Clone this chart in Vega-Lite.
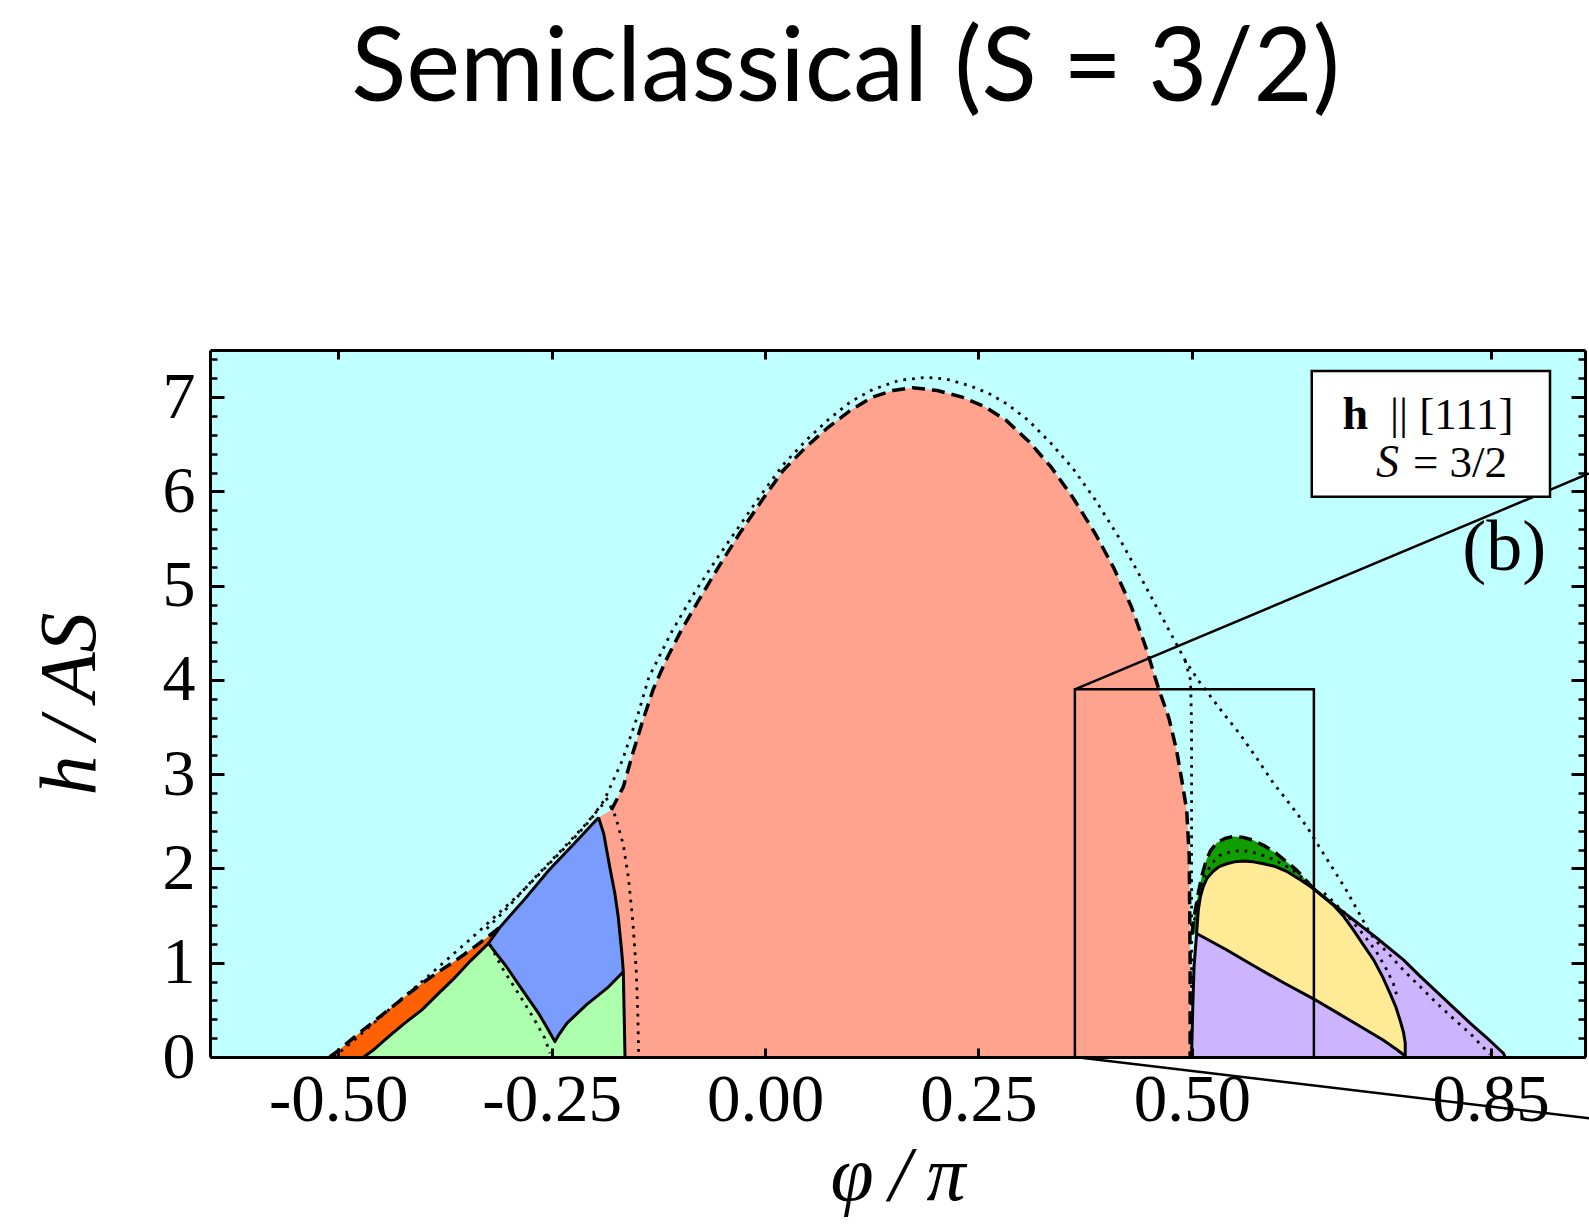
{
  "$schema": "https://vega.github.io/schema/vega-lite/v6.json",
  "width": 1375,
  "height": 707,
  "autosize": {"type": "none"},
  "padding": {"left": 210, "top": 350, "right": 4, "bottom": 173},
  "background": "white",
  "title": {"text": "Semiclassical (S = 3/2)", "font": "Lato", "fontSize": 102, "fontWeight": "normal", "color": "black", "anchor": "middle", "frame": "group", "dx": -52, "baseline": "alphabetic", "offset": 146},
  "config": {"view": {"stroke": null, "fill": "#c0ffff"}},
  "resolve": {"axis": {"x": "independent", "y": "independent"}},
  "datasets": {
    "poly": [
      {"r":"salmon","i":0,"x":-0.164,"y":0},{"r":"salmon","i":1,"x":0.498,"y":0},{"r":"salmon","i":2,"x":0.498,"y":1.0},{"r":"salmon","i":3,"x":0.497,"y":2.12},{"r":"salmon","i":4,"x":0.494,"y":2.62},{"r":"salmon","i":5,"x":0.488,"y":2.95},{"r":"salmon","i":6,"x":0.482,"y":3.26},{"r":"salmon","i":7,"x":0.473,"y":3.6},{"r":"salmon","i":8,"x":0.461,"y":3.91},{"r":"salmon","i":9,"x":0.446,"y":4.35},{"r":"salmon","i":10,"x":0.429,"y":4.78},{"r":"salmon","i":11,"x":0.409,"y":5.18},{"r":"salmon","i":12,"x":0.387,"y":5.55},{"r":"salmon","i":13,"x":0.361,"y":5.93},{"r":"salmon","i":14,"x":0.335,"y":6.26},{"r":"salmon","i":15,"x":0.309,"y":6.53},{"r":"salmon","i":16,"x":0.283,"y":6.75},{"r":"salmon","i":17,"x":0.257,"y":6.9},{"r":"salmon","i":18,"x":0.231,"y":7.0},{"r":"salmon","i":19,"x":0.202,"y":7.07},{"r":"salmon","i":20,"x":0.173,"y":7.1},{"r":"salmon","i":21,"x":0.15,"y":7.07},{"r":"salmon","i":22,"x":0.126,"y":7.0},{"r":"salmon","i":23,"x":0.1,"y":6.86},{"r":"salmon","i":24,"x":0.074,"y":6.68},{"r":"salmon","i":25,"x":0.048,"y":6.47},{"r":"salmon","i":26,"x":0.021,"y":6.22},{"r":"salmon","i":27,"x":-0.004,"y":5.9},{"r":"salmon","i":28,"x":-0.03,"y":5.55},{"r":"salmon","i":29,"x":-0.055,"y":5.19},{"r":"salmon","i":30,"x":-0.08,"y":4.81},{"r":"salmon","i":31,"x":-0.099,"y":4.51},{"r":"salmon","i":32,"x":-0.116,"y":4.21},{"r":"salmon","i":33,"x":-0.131,"y":3.9},{"r":"salmon","i":34,"x":-0.143,"y":3.574},{"r":"salmon","i":35,"x":-0.155,"y":3.22},{"r":"salmon","i":36,"x":-0.166,"y":2.866},{"r":"salmon","i":37,"x":-0.18,"y":2.62},{"r":"salmon","i":38,"x":-0.195,"y":2.54},{"r":"salmon","i":39,"x":-0.189,"y":2.37},{"r":"salmon","i":40,"x":-0.182,"y":2.02},{"r":"salmon","i":41,"x":-0.176,"y":1.74},{"r":"salmon","i":42,"x":-0.172,"y":1.49},{"r":"salmon","i":43,"x":-0.168,"y":1.13},{"r":"salmon","i":44,"x":-0.166,"y":0.905},{"r":"salmon","i":45,"x":-0.165,"y":0.45},
      {"r":"blue","i":0,"x":-0.324,"y":1.206},{"r":"blue","i":1,"x":-0.31,"y":1.382},{"r":"blue","i":2,"x":-0.281,"y":1.68},{"r":"blue","i":3,"x":-0.253,"y":1.983},{"r":"blue","i":4,"x":-0.224,"y":2.26},{"r":"blue","i":5,"x":-0.195,"y":2.54},{"r":"blue","i":6,"x":-0.189,"y":2.37},{"r":"blue","i":7,"x":-0.182,"y":2.02},{"r":"blue","i":8,"x":-0.176,"y":1.74},{"r":"blue","i":9,"x":-0.172,"y":1.49},{"r":"blue","i":10,"x":-0.168,"y":1.13},{"r":"blue","i":11,"x":-0.166,"y":0.905},{"r":"blue","i":12,"x":-0.185,"y":0.73},{"r":"blue","i":13,"x":-0.209,"y":0.555},{"r":"blue","i":14,"x":-0.232,"y":0.36},{"r":"blue","i":15,"x":-0.242,"y":0.23},{"r":"blue","i":16,"x":-0.246,"y":0.163},{"r":"blue","i":17,"x":-0.256,"y":0.32},{"r":"blue","i":18,"x":-0.265,"y":0.46},{"r":"blue","i":19,"x":-0.285,"y":0.72},{"r":"blue","i":20,"x":-0.303,"y":0.96},{"r":"blue","i":21,"x":-0.315,"y":1.1},
      {"r":"green","i":0,"x":-0.47,"y":0},{"r":"green","i":1,"x":-0.458,"y":0.08},{"r":"green","i":2,"x":-0.441,"y":0.215},{"r":"green","i":3,"x":-0.422,"y":0.36},{"r":"green","i":4,"x":-0.402,"y":0.5},{"r":"green","i":5,"x":-0.383,"y":0.67},{"r":"green","i":6,"x":-0.363,"y":0.845},{"r":"green","i":7,"x":-0.345,"y":1.02},{"r":"green","i":8,"x":-0.324,"y":1.206},{"r":"green","i":9,"x":-0.315,"y":1.1},{"r":"green","i":10,"x":-0.303,"y":0.96},{"r":"green","i":11,"x":-0.285,"y":0.72},{"r":"green","i":12,"x":-0.265,"y":0.46},{"r":"green","i":13,"x":-0.256,"y":0.32},{"r":"green","i":14,"x":-0.246,"y":0.163},{"r":"green","i":15,"x":-0.242,"y":0.23},{"r":"green","i":16,"x":-0.232,"y":0.36},{"r":"green","i":17,"x":-0.209,"y":0.555},{"r":"green","i":18,"x":-0.185,"y":0.73},{"r":"green","i":19,"x":-0.166,"y":0.905},{"r":"green","i":20,"x":-0.165,"y":0.45},{"r":"green","i":21,"x":-0.164,"y":0},
      {"r":"orange","i":0,"x":-0.51,"y":0},{"r":"orange","i":1,"x":-0.498,"y":0.08},{"r":"orange","i":2,"x":-0.484,"y":0.19},{"r":"orange","i":3,"x":-0.462,"y":0.35},{"r":"orange","i":4,"x":-0.441,"y":0.5},{"r":"orange","i":5,"x":-0.422,"y":0.64},{"r":"orange","i":6,"x":-0.402,"y":0.78},{"r":"orange","i":7,"x":-0.383,"y":0.9},{"r":"orange","i":8,"x":-0.363,"y":1.02},{"r":"orange","i":9,"x":-0.343,"y":1.15},{"r":"orange","i":10,"x":-0.324,"y":1.28},{"r":"orange","i":11,"x":-0.31,"y":1.382},{"r":"orange","i":12,"x":-0.324,"y":1.206},{"r":"orange","i":13,"x":-0.345,"y":1.02},{"r":"orange","i":14,"x":-0.363,"y":0.845},{"r":"orange","i":15,"x":-0.383,"y":0.67},{"r":"orange","i":16,"x":-0.402,"y":0.5},{"r":"orange","i":17,"x":-0.422,"y":0.36},{"r":"orange","i":18,"x":-0.441,"y":0.215},{"r":"orange","i":19,"x":-0.458,"y":0.08},{"r":"orange","i":20,"x":-0.47,"y":0},
      {"r":"dgreen","i":0,"x":0.5,"y":1.3},{"r":"dgreen","i":1,"x":0.503,"y":1.5},{"r":"dgreen","i":2,"x":0.5076,"y":1.74},{"r":"dgreen","i":3,"x":0.512,"y":1.93},{"r":"dgreen","i":4,"x":0.517,"y":2.09},{"r":"dgreen","i":5,"x":0.522,"y":2.19},{"r":"dgreen","i":6,"x":0.529,"y":2.27},{"r":"dgreen","i":7,"x":0.539,"y":2.32},{"r":"dgreen","i":8,"x":0.549,"y":2.34},{"r":"dgreen","i":9,"x":0.56,"y":2.33},{"r":"dgreen","i":10,"x":0.572,"y":2.3},{"r":"dgreen","i":11,"x":0.585,"y":2.24},{"r":"dgreen","i":12,"x":0.599,"y":2.16},{"r":"dgreen","i":13,"x":0.611,"y":2.07},{"r":"dgreen","i":14,"x":0.623,"y":1.98},{"r":"dgreen","i":15,"x":0.633,"y":1.88},{"r":"dgreen","i":16,"x":0.642,"y":1.79},{"r":"dgreen","i":17,"x":0.627,"y":1.88},{"r":"dgreen","i":18,"x":0.611,"y":1.97},{"r":"dgreen","i":19,"x":0.598,"y":2.02},{"r":"dgreen","i":20,"x":0.584,"y":2.05},{"r":"dgreen","i":21,"x":0.572,"y":2.07},{"r":"dgreen","i":22,"x":0.56,"y":2.08},{"r":"dgreen","i":23,"x":0.55,"y":2.07},{"r":"dgreen","i":24,"x":0.541,"y":2.05},{"r":"dgreen","i":25,"x":0.532,"y":2.02},{"r":"dgreen","i":26,"x":0.525,"y":1.97},{"r":"dgreen","i":27,"x":0.518,"y":1.9},{"r":"dgreen","i":28,"x":0.5135,"y":1.81},{"r":"dgreen","i":29,"x":0.51,"y":1.7},{"r":"dgreen","i":30,"x":0.5076,"y":1.56},{"r":"dgreen","i":31,"x":0.5056,"y":1.31},
      {"r":"yellow","i":0,"x":0.5056,"y":1.31},{"r":"yellow","i":1,"x":0.5076,"y":1.56},{"r":"yellow","i":2,"x":0.51,"y":1.7},{"r":"yellow","i":3,"x":0.5135,"y":1.81},{"r":"yellow","i":4,"x":0.518,"y":1.9},{"r":"yellow","i":5,"x":0.525,"y":1.97},{"r":"yellow","i":6,"x":0.532,"y":2.02},{"r":"yellow","i":7,"x":0.541,"y":2.05},{"r":"yellow","i":8,"x":0.55,"y":2.07},{"r":"yellow","i":9,"x":0.56,"y":2.08},{"r":"yellow","i":10,"x":0.572,"y":2.07},{"r":"yellow","i":11,"x":0.584,"y":2.05},{"r":"yellow","i":12,"x":0.598,"y":2.02},{"r":"yellow","i":13,"x":0.611,"y":1.97},{"r":"yellow","i":14,"x":0.627,"y":1.88},{"r":"yellow","i":15,"x":0.642,"y":1.79},{"r":"yellow","i":16,"x":0.654,"y":1.7},{"r":"yellow","i":17,"x":0.666,"y":1.61},{"r":"yellow","i":18,"x":0.678,"y":1.49},{"r":"yellow","i":19,"x":0.689,"y":1.35},{"r":"yellow","i":20,"x":0.701,"y":1.19},{"r":"yellow","i":21,"x":0.713,"y":1.03},{"r":"yellow","i":22,"x":0.723,"y":0.86},{"r":"yellow","i":23,"x":0.732,"y":0.68},{"r":"yellow","i":24,"x":0.739,"y":0.53},{"r":"yellow","i":25,"x":0.744,"y":0.39},{"r":"yellow","i":26,"x":0.748,"y":0.26},{"r":"yellow","i":27,"x":0.75,"y":0.15},{"r":"yellow","i":28,"x":0.75,"y":0.01},{"r":"yellow","i":29,"x":0.74,"y":0.08},{"r":"yellow","i":30,"x":0.724,"y":0.18},{"r":"yellow","i":31,"x":0.7,"y":0.31},{"r":"yellow","i":32,"x":0.672,"y":0.46},{"r":"yellow","i":33,"x":0.642,"y":0.62},{"r":"yellow","i":34,"x":0.607,"y":0.79},{"r":"yellow","i":35,"x":0.572,"y":0.97},{"r":"yellow","i":36,"x":0.54,"y":1.14},
      {"r":"purpleA","i":0,"x":0.4997,"y":0},{"r":"purpleA","i":1,"x":0.501,"y":0.5},{"r":"purpleA","i":2,"x":0.5026,"y":0.96},{"r":"purpleA","i":3,"x":0.5056,"y":1.31},{"r":"purpleA","i":4,"x":0.54,"y":1.14},{"r":"purpleA","i":5,"x":0.572,"y":0.97},{"r":"purpleA","i":6,"x":0.607,"y":0.79},{"r":"purpleA","i":7,"x":0.642,"y":0.62},{"r":"purpleA","i":8,"x":0.672,"y":0.46},{"r":"purpleA","i":9,"x":0.7,"y":0.31},{"r":"purpleA","i":10,"x":0.724,"y":0.18},{"r":"purpleA","i":11,"x":0.74,"y":0.08},{"r":"purpleA","i":12,"x":0.75,"y":0.01},{"r":"purpleA","i":13,"x":0.75,"y":0},
      {"r":"purpleB","i":0,"x":0.75,"y":0},{"r":"purpleB","i":1,"x":0.75,"y":0.15},{"r":"purpleB","i":2,"x":0.748,"y":0.26},{"r":"purpleB","i":3,"x":0.744,"y":0.39},{"r":"purpleB","i":4,"x":0.739,"y":0.53},{"r":"purpleB","i":5,"x":0.732,"y":0.68},{"r":"purpleB","i":6,"x":0.723,"y":0.86},{"r":"purpleB","i":7,"x":0.713,"y":1.03},{"r":"purpleB","i":8,"x":0.701,"y":1.19},{"r":"purpleB","i":9,"x":0.689,"y":1.35},{"r":"purpleB","i":10,"x":0.678,"y":1.49},{"r":"purpleB","i":11,"x":0.666,"y":1.61},{"r":"purpleB","i":12,"x":0.654,"y":1.7},{"r":"purpleB","i":13,"x":0.642,"y":1.79},{"r":"purpleB","i":14,"x":0.656,"y":1.69},{"r":"purpleB","i":15,"x":0.67,"y":1.59},{"r":"purpleB","i":16,"x":0.693,"y":1.43},{"r":"purpleB","i":17,"x":0.717,"y":1.26},{"r":"purpleB","i":18,"x":0.748,"y":1.03},{"r":"purpleB","i":19,"x":0.767,"y":0.86},{"r":"purpleB","i":20,"x":0.787,"y":0.69},{"r":"purpleB","i":21,"x":0.806,"y":0.53},{"r":"purpleB","i":22,"x":0.826,"y":0.36},{"r":"purpleB","i":23,"x":0.846,"y":0.2},{"r":"purpleB","i":24,"x":0.865,"y":0.04},{"r":"purpleB","i":25,"x":0.867,"y":0}
    ],
    "solid": [
      {"s":"S1","i":0,"x":-0.47,"y":0},{"s":"S1","i":1,"x":-0.458,"y":0.08},{"s":"S1","i":2,"x":-0.441,"y":0.215},{"s":"S1","i":3,"x":-0.422,"y":0.36},{"s":"S1","i":4,"x":-0.402,"y":0.5},{"s":"S1","i":5,"x":-0.383,"y":0.67},{"s":"S1","i":6,"x":-0.363,"y":0.845},{"s":"S1","i":7,"x":-0.345,"y":1.02},{"s":"S1","i":8,"x":-0.324,"y":1.206},{"s":"S1","i":9,"x":-0.31,"y":1.382},{"s":"S1","i":10,"x":-0.281,"y":1.68},{"s":"S1","i":11,"x":-0.253,"y":1.983},{"s":"S1","i":12,"x":-0.224,"y":2.26},{"s":"S1","i":13,"x":-0.195,"y":2.54},
      {"s":"S2","i":0,"x":-0.195,"y":2.54},{"s":"S2","i":1,"x":-0.189,"y":2.37},{"s":"S2","i":2,"x":-0.182,"y":2.02},{"s":"S2","i":3,"x":-0.176,"y":1.74},{"s":"S2","i":4,"x":-0.172,"y":1.49},{"s":"S2","i":5,"x":-0.168,"y":1.13},{"s":"S2","i":6,"x":-0.166,"y":0.905},{"s":"S2","i":7,"x":-0.165,"y":0.45},{"s":"S2","i":8,"x":-0.164,"y":0},
      {"s":"S3","i":0,"x":-0.324,"y":1.206},{"s":"S3","i":1,"x":-0.315,"y":1.1},{"s":"S3","i":2,"x":-0.303,"y":0.96},{"s":"S3","i":3,"x":-0.285,"y":0.72},{"s":"S3","i":4,"x":-0.265,"y":0.46},{"s":"S3","i":5,"x":-0.256,"y":0.32},{"s":"S3","i":6,"x":-0.246,"y":0.163},{"s":"S3","i":7,"x":-0.242,"y":0.23},{"s":"S3","i":8,"x":-0.232,"y":0.36},{"s":"S3","i":9,"x":-0.209,"y":0.555},{"s":"S3","i":10,"x":-0.185,"y":0.73},{"s":"S3","i":11,"x":-0.166,"y":0.905},
      {"s":"S4","i":0,"x":0.4997,"y":0},{"s":"S4","i":1,"x":0.501,"y":0.5},{"s":"S4","i":2,"x":0.5026,"y":0.96},{"s":"S4","i":3,"x":0.5056,"y":1.31},
      {"s":"S5","i":0,"x":0.5056,"y":1.31},{"s":"S5","i":1,"x":0.5076,"y":1.56},{"s":"S5","i":2,"x":0.51,"y":1.7},{"s":"S5","i":3,"x":0.5135,"y":1.81},{"s":"S5","i":4,"x":0.518,"y":1.9},{"s":"S5","i":5,"x":0.525,"y":1.97},{"s":"S5","i":6,"x":0.532,"y":2.02},{"s":"S5","i":7,"x":0.541,"y":2.05},{"s":"S5","i":8,"x":0.55,"y":2.07},{"s":"S5","i":9,"x":0.56,"y":2.08},{"s":"S5","i":10,"x":0.572,"y":2.07},{"s":"S5","i":11,"x":0.584,"y":2.05},{"s":"S5","i":12,"x":0.598,"y":2.02},{"s":"S5","i":13,"x":0.611,"y":1.97},{"s":"S5","i":14,"x":0.627,"y":1.88},{"s":"S5","i":15,"x":0.642,"y":1.79},{"s":"S5","i":16,"x":0.654,"y":1.7},{"s":"S5","i":17,"x":0.666,"y":1.61},{"s":"S5","i":18,"x":0.678,"y":1.49},{"s":"S5","i":19,"x":0.689,"y":1.35},{"s":"S5","i":20,"x":0.701,"y":1.19},{"s":"S5","i":21,"x":0.713,"y":1.03},{"s":"S5","i":22,"x":0.723,"y":0.86},{"s":"S5","i":23,"x":0.732,"y":0.68},{"s":"S5","i":24,"x":0.739,"y":0.53},{"s":"S5","i":25,"x":0.744,"y":0.39},{"s":"S5","i":26,"x":0.748,"y":0.26},{"s":"S5","i":27,"x":0.75,"y":0.15},{"s":"S5","i":28,"x":0.75,"y":0},
      {"s":"S6","i":0,"x":0.5056,"y":1.31},{"s":"S6","i":1,"x":0.54,"y":1.14},{"s":"S6","i":2,"x":0.572,"y":0.97},{"s":"S6","i":3,"x":0.607,"y":0.79},{"s":"S6","i":4,"x":0.642,"y":0.62},{"s":"S6","i":5,"x":0.672,"y":0.46},{"s":"S6","i":6,"x":0.7,"y":0.31},{"s":"S6","i":7,"x":0.724,"y":0.18},{"s":"S6","i":8,"x":0.74,"y":0.08},{"s":"S6","i":9,"x":0.75,"y":0.01},
      {"s":"S7","i":0,"x":0.642,"y":1.79},{"s":"S7","i":1,"x":0.656,"y":1.69},{"s":"S7","i":2,"x":0.67,"y":1.59},{"s":"S7","i":3,"x":0.693,"y":1.43},{"s":"S7","i":4,"x":0.717,"y":1.26},{"s":"S7","i":5,"x":0.748,"y":1.03},{"s":"S7","i":6,"x":0.767,"y":0.86},{"s":"S7","i":7,"x":0.787,"y":0.69},{"s":"S7","i":8,"x":0.806,"y":0.53},{"s":"S7","i":9,"x":0.826,"y":0.36},{"s":"S7","i":10,"x":0.846,"y":0.2},{"s":"S7","i":11,"x":0.865,"y":0.04},{"s":"S7","i":12,"x":0.867,"y":0}
    ],
    "dashed": [
      {"s":"DA","i":0,"x":-0.18,"y":2.62},{"s":"DA","i":1,"x":-0.166,"y":2.866},{"s":"DA","i":2,"x":-0.155,"y":3.22},{"s":"DA","i":3,"x":-0.143,"y":3.574},{"s":"DA","i":4,"x":-0.131,"y":3.9},{"s":"DA","i":5,"x":-0.116,"y":4.21},{"s":"DA","i":6,"x":-0.099,"y":4.51},{"s":"DA","i":7,"x":-0.08,"y":4.81},{"s":"DA","i":8,"x":-0.055,"y":5.19},{"s":"DA","i":9,"x":-0.03,"y":5.55},{"s":"DA","i":10,"x":-0.004,"y":5.9},{"s":"DA","i":11,"x":0.021,"y":6.22},{"s":"DA","i":12,"x":0.048,"y":6.47},{"s":"DA","i":13,"x":0.074,"y":6.68},{"s":"DA","i":14,"x":0.1,"y":6.86},{"s":"DA","i":15,"x":0.126,"y":7.0},{"s":"DA","i":16,"x":0.15,"y":7.07},{"s":"DA","i":17,"x":0.173,"y":7.1},{"s":"DA","i":18,"x":0.202,"y":7.07},{"s":"DA","i":19,"x":0.231,"y":7.0},{"s":"DA","i":20,"x":0.257,"y":6.9},{"s":"DA","i":21,"x":0.283,"y":6.75},{"s":"DA","i":22,"x":0.309,"y":6.53},{"s":"DA","i":23,"x":0.335,"y":6.26},{"s":"DA","i":24,"x":0.361,"y":5.93},{"s":"DA","i":25,"x":0.387,"y":5.55},{"s":"DA","i":26,"x":0.409,"y":5.18},{"s":"DA","i":27,"x":0.429,"y":4.78},{"s":"DA","i":28,"x":0.446,"y":4.35},{"s":"DA","i":29,"x":0.461,"y":3.91},{"s":"DA","i":30,"x":0.473,"y":3.6},{"s":"DA","i":31,"x":0.482,"y":3.26},{"s":"DA","i":32,"x":0.488,"y":2.95},{"s":"DA","i":33,"x":0.494,"y":2.62},{"s":"DA","i":34,"x":0.497,"y":2.12},{"s":"DA","i":35,"x":0.498,"y":1.0},{"s":"DA","i":36,"x":0.498,"y":0},
      {"s":"DB","i":0,"x":-0.51,"y":0},{"s":"DB","i":1,"x":-0.498,"y":0.08},{"s":"DB","i":2,"x":-0.484,"y":0.19},{"s":"DB","i":3,"x":-0.462,"y":0.35},{"s":"DB","i":4,"x":-0.441,"y":0.5},{"s":"DB","i":5,"x":-0.422,"y":0.64},{"s":"DB","i":6,"x":-0.402,"y":0.78},{"s":"DB","i":7,"x":-0.383,"y":0.9},{"s":"DB","i":8,"x":-0.363,"y":1.02},{"s":"DB","i":9,"x":-0.343,"y":1.15},{"s":"DB","i":10,"x":-0.324,"y":1.28},{"s":"DB","i":11,"x":-0.31,"y":1.382},
      {"s":"DC","i":0,"x":0.5,"y":1.3},{"s":"DC","i":1,"x":0.503,"y":1.5},{"s":"DC","i":2,"x":0.5076,"y":1.74},{"s":"DC","i":3,"x":0.512,"y":1.93},{"s":"DC","i":4,"x":0.517,"y":2.09},{"s":"DC","i":5,"x":0.522,"y":2.19},{"s":"DC","i":6,"x":0.529,"y":2.27},{"s":"DC","i":7,"x":0.539,"y":2.32},{"s":"DC","i":8,"x":0.549,"y":2.34},{"s":"DC","i":9,"x":0.56,"y":2.33},{"s":"DC","i":10,"x":0.572,"y":2.3},{"s":"DC","i":11,"x":0.585,"y":2.24},{"s":"DC","i":12,"x":0.599,"y":2.16},{"s":"DC","i":13,"x":0.611,"y":2.07},{"s":"DC","i":14,"x":0.623,"y":1.98},{"s":"DC","i":15,"x":0.633,"y":1.88},{"s":"DC","i":16,"x":0.642,"y":1.79}
    ],
    "dotted": [
      {"s":"A","i":0,"x":-0.505,"y":0},{"s":"A","i":1,"x":-0.485,"y":0.15},{"s":"A","i":2,"x":-0.461,"y":0.34},{"s":"A","i":3,"x":-0.432,"y":0.57},{"s":"A","i":4,"x":-0.402,"y":0.8},{"s":"A","i":5,"x":-0.373,"y":1.03},{"s":"A","i":6,"x":-0.344,"y":1.26},{"s":"A","i":7,"x":-0.315,"y":1.5},{"s":"A","i":8,"x":-0.285,"y":1.75},{"s":"A","i":9,"x":-0.256,"y":2.02},{"s":"A","i":10,"x":-0.227,"y":2.29},{"s":"A","i":11,"x":-0.205,"y":2.51},{"s":"A","i":12,"x":-0.188,"y":2.73},{"s":"A","i":13,"x":-0.177,"y":2.95},{"s":"A","i":14,"x":-0.167,"y":3.15},{"s":"A","i":15,"x":-0.15,"y":3.6},{"s":"A","i":16,"x":-0.136,"y":4.03},{"s":"A","i":17,"x":-0.11,"y":4.5},{"s":"A","i":18,"x":-0.083,"y":4.92},{"s":"A","i":19,"x":-0.057,"y":5.28},{"s":"A","i":20,"x":-0.031,"y":5.62},{"s":"A","i":21,"x":-0.005,"y":5.96},{"s":"A","i":22,"x":0.021,"y":6.28},{"s":"A","i":23,"x":0.048,"y":6.54},{"s":"A","i":24,"x":0.074,"y":6.76},{"s":"A","i":25,"x":0.1,"y":6.95},{"s":"A","i":26,"x":0.126,"y":7.08},{"s":"A","i":27,"x":0.158,"y":7.18},{"s":"A","i":28,"x":0.189,"y":7.21},{"s":"A","i":29,"x":0.213,"y":7.19},{"s":"A","i":30,"x":0.24,"y":7.12},{"s":"A","i":31,"x":0.262,"y":7.04},{"s":"A","i":32,"x":0.283,"y":6.93},{"s":"A","i":33,"x":0.309,"y":6.75},{"s":"A","i":34,"x":0.335,"y":6.51},{"s":"A","i":35,"x":0.361,"y":6.24},{"s":"A","i":36,"x":0.387,"y":5.91},{"s":"A","i":37,"x":0.414,"y":5.52},{"s":"A","i":38,"x":0.44,"y":5.09},{"s":"A","i":39,"x":0.466,"y":4.65},{"s":"A","i":40,"x":0.492,"y":4.21},{"s":"A","i":41,"x":0.508,"y":3.99},{"s":"A","i":42,"x":0.525,"y":3.79},{"s":"A","i":43,"x":0.54,"y":3.61},{"s":"A","i":44,"x":0.556,"y":3.43},{"s":"A","i":45,"x":0.576,"y":3.17},{"s":"A","i":46,"x":0.596,"y":2.9},{"s":"A","i":47,"x":0.616,"y":2.67},{"s":"A","i":48,"x":0.635,"y":2.44},{"s":"A","i":49,"x":0.654,"y":2.16},{"s":"A","i":50,"x":0.668,"y":1.96},{"s":"A","i":51,"x":0.681,"y":1.77},{"s":"A","i":52,"x":0.695,"y":1.54},{"s":"A","i":53,"x":0.709,"y":1.31},{"s":"A","i":54,"x":0.717,"y":1.22},{"s":"A","i":55,"x":0.73,"y":1.1},{"s":"A","i":56,"x":0.748,"y":0.92},{"s":"A","i":57,"x":0.767,"y":0.75},{"s":"A","i":58,"x":0.787,"y":0.57},{"s":"A","i":59,"x":0.806,"y":0.41},{"s":"A","i":60,"x":0.826,"y":0.25},{"s":"A","i":61,"x":0.849,"y":0.03},
      {"s":"B","i":0,"x":-0.326,"y":1.36},{"s":"B","i":1,"x":-0.3,"y":1.6},{"s":"B","i":2,"x":-0.27,"y":1.9},{"s":"B","i":3,"x":-0.24,"y":2.18},{"s":"B","i":4,"x":-0.212,"y":2.45},{"s":"B","i":5,"x":-0.19,"y":2.68},
      {"s":"C","i":0,"x":-0.186,"y":2.75},{"s":"C","i":1,"x":-0.175,"y":2.55},{"s":"C","i":2,"x":-0.166,"y":2.25},{"s":"C","i":3,"x":-0.16,"y":1.9},{"s":"C","i":4,"x":-0.155,"y":1.45},{"s":"C","i":5,"x":-0.151,"y":0.95},{"s":"C","i":6,"x":-0.149,"y":0.45},{"s":"C","i":7,"x":-0.148,"y":0},
      {"s":"D","i":0,"x":-0.322,"y":1.19},{"s":"D","i":1,"x":-0.309,"y":0.96},{"s":"D","i":2,"x":-0.292,"y":0.72},{"s":"D","i":3,"x":-0.273,"y":0.44},{"s":"D","i":4,"x":-0.258,"y":0.2},{"s":"D","i":5,"x":-0.252,"y":0.04},
      {"s":"E","i":0,"x":0.503,"y":1.45},{"s":"E","i":1,"x":0.508,"y":1.7},{"s":"E","i":2,"x":0.515,"y":1.92},{"s":"E","i":3,"x":0.524,"y":2.06},{"s":"E","i":4,"x":0.533,"y":2.14},{"s":"E","i":5,"x":0.546,"y":2.18},{"s":"E","i":6,"x":0.56,"y":2.19},{"s":"E","i":7,"x":0.576,"y":2.16},{"s":"E","i":8,"x":0.592,"y":2.11},{"s":"E","i":9,"x":0.608,"y":2.04},{"s":"E","i":10,"x":0.623,"y":1.95},{"s":"E","i":11,"x":0.642,"y":1.81},
      {"s":"F","i":0,"x":0.492,"y":4.21},{"s":"F","i":1,"x":0.4985,"y":4.0},{"s":"F","i":2,"x":0.4997,"y":3.5},{"s":"F","i":3,"x":0.4997,"y":0},
      {"s":"G","i":0,"x":0.655,"y":1.74},{"s":"G","i":1,"x":0.68,"y":1.52},{"s":"G","i":2,"x":0.7,"y":1.31},{"s":"G","i":3,"x":0.716,"y":1.12},{"s":"G","i":4,"x":0.728,"y":0.93},{"s":"G","i":5,"x":0.736,"y":0.78},{"s":"G","i":6,"x":0.74,"y":0.66}
    ],
    "inset": [
      {"s":"box","i":0,"x":0.363,"y":0},{"s":"box","i":1,"x":0.363,"y":3.9},{"s":"box","i":2,"x":0.643,"y":3.9},{"s":"box","i":3,"x":0.643,"y":0},
      {"s":"up","i":0,"x":0.363,"y":3.9},{"s":"up","i":1,"x":0.9653,"y":6.19},
      {"s":"down","i":0,"x":0.363,"y":0},{"s":"down","i":1,"x":0.9653,"y":-0.65}
    ],
    "box": [{"x1":0.6405,"x2":0.9196,"y1":5.942,"y2":7.278}],
    "txt": [
      {"k":"h","t":"h","x":0.7064,"y":6.66},
      {"k":"par","t":"|| [111]","x":0.7322,"y":6.66},
      {"k":"S","t":"S","x":0.7427,"y":6.15},
      {"k":"eq","t":"= 3/2","x":0.759,"y":6.15},
      {"k":"b","t":"(b)","x":0.866,"y":5.166}
    ]
  },
  "layer": [
    {
      "data": {"name": "poly"},
      "mark": {"type": "line", "strokeWidth": 0, "strokeOpacity": 0, "interpolate": "linear"},
      "encoding": {
        "x": {"field": "x", "type": "quantitative", "scale": {"domain": [-0.6502, 0.9606], "nice": false, "zero": false},
          "axis": {"orient": "bottom", "values": [-0.5, -0.25, 0, 0.25, 0.5, 0.85], "labelExpr": "datum.value < 0 ? '-' + format(-datum.value, '.2f') : format(datum.value, '.2f')", "ticks": false, "tickSize": 0, "domain": true, "domainColor": "black", "domainWidth": 3, "labelFont": "Liberation Serif", "labelFontSize": 67, "labelColor": "black", "labelBaseline": "alphabetic", "labelPadding": 63, "labelOverlap": false, "labelFlush": false, "grid": false, "title": "φ\u2009/\u2009π", "titleFont": "Liberation Serif", "titleFontSize": 78, "titleFontStyle": "italic", "titleFontWeight": "normal", "titleColor": "black", "titleBaseline": "alphabetic", "titlePadding": 66, "zindex": 1}},
        "y": {"field": "y", "type": "quantitative", "scale": {"domain": [0, 7.5], "nice": false, "zero": false},
          "axis": {"orient": "left", "values": [0, 1, 2, 3, 4, 5, 6, 7], "format": "d", "ticks": false, "tickSize": 0, "domain": true, "domainColor": "black", "domainWidth": 3, "labelFont": "Liberation Serif", "labelFontSize": 66, "labelColor": "black", "labelPadding": 15, "grid": false, "title": "h\u2009/\u2009AS", "titleFont": "Liberation Serif", "titleFontSize": 80, "titleFontStyle": "italic", "titleFontWeight": "normal", "titleColor": "black", "titleBaseline": "alphabetic", "titlePadding": 68, "zindex": 1}},
        "fill": {"field": "r", "type": "nominal", "scale": {"domain": ["salmon", "blue", "green", "orange", "dgreen", "yellow", "purpleA", "purpleB"], "range": ["#ffa28e", "#7b9cff", "#acffac", "#ff6000", "#109d00", "#ffeb95", "#cdb4ff", "#cdb4ff"]}, "legend": null},
        "order": {"field": "i", "type": "quantitative"}
      }
    },
    {
      "data": {"name": "dotted"},
      "mark": {"type": "line", "color": "black", "strokeWidth": 2.8, "strokeDash": [2.8, 6], "strokeCap": "butt"},
      "encoding": {
        "x": {"field": "x", "type": "quantitative", "scale": {"domain": [-0.6502, 0.9606], "nice": false, "zero": false},
          "axis": {"orient": "top", "offset": -707, "values": [-0.5, -0.25, 0, 0.25, 0.5, 0.85], "labels": false, "domain": false, "ticks": true, "tickSize": 9, "tickWidth": 3, "tickColor": "black", "grid": false, "title": null, "zindex": 1}},
        "y": {"field": "y", "type": "quantitative", "scale": {"domain": [0, 7.5], "nice": false, "zero": false},
          "axis": {"orient": "right", "offset": -1375, "values": [0, 1, 2, 3, 4, 5, 6, 7], "labels": false, "domain": false, "ticks": true, "tickSize": 14, "tickWidth": 3, "tickColor": "black", "grid": false, "title": null, "zindex": 1}},
        "detail": {"field": "s", "type": "nominal"},
        "order": {"field": "i", "type": "quantitative"}
      }
    },
    {
      "data": {"name": "dashed"},
      "mark": {"type": "line", "color": "black", "strokeWidth": 3.5, "strokeDash": [13, 7], "strokeCap": "butt"},
      "encoding": {
        "x": {"field": "x", "type": "quantitative", "scale": {"domain": [-0.6502, 0.9606], "nice": false, "zero": false},
          "axis": {"orient": "bottom", "offset": -707, "values": [-0.5, -0.25, 0, 0.25, 0.5, 0.85], "labels": false, "domain": true, "domainColor": "black", "domainWidth": 3, "ticks": true, "tickSize": 9, "tickWidth": 3, "tickColor": "black", "grid": false, "title": null, "zindex": 1}},
        "y": {"field": "y", "type": "quantitative", "scale": {"domain": [0, 7.5], "nice": false, "zero": false},
          "axis": {"orient": "right", "offset": -1375, "values": [0.2, 0.4, 0.6, 0.8, 1.2, 1.4, 1.6, 1.8, 2.2, 2.4, 2.6, 2.8, 3.2, 3.4, 3.6, 3.8, 4.2, 4.4, 4.6, 4.8, 5.2, 5.4, 5.6, 5.8, 6.2, 6.4, 6.6, 6.8, 7.2, 7.4], "labels": false, "domain": false, "ticks": true, "tickSize": 7, "tickWidth": 2.5, "tickColor": "black", "grid": false, "title": null, "zindex": 1}},
        "detail": {"field": "s", "type": "nominal"},
        "order": {"field": "i", "type": "quantitative"}
      }
    },
    {
      "data": {"name": "solid"},
      "mark": {"type": "line", "color": "black", "strokeWidth": 3, "strokeJoin": "round"},
      "encoding": {
        "x": {"field": "x", "type": "quantitative", "scale": {"domain": [-0.6502, 0.9606], "nice": false, "zero": false}, "axis": null},
        "y": {"field": "y", "type": "quantitative", "scale": {"domain": [0, 7.5], "nice": false, "zero": false},
          "axis": {"orient": "left", "offset": -1375, "values": [0, 1, 2, 3, 4, 5, 6, 7], "labels": false, "domain": true, "domainColor": "black", "domainWidth": 3, "ticks": true, "tickSize": 14, "tickWidth": 3, "tickColor": "black", "grid": false, "title": null, "zindex": 1}},
        "detail": {"field": "s", "type": "nominal"},
        "order": {"field": "i", "type": "quantitative"}
      }
    },
    {
      "data": {"name": "inset"},
      "mark": {"type": "line", "color": "black", "strokeWidth": 2.5, "clip": false},
      "encoding": {
        "x": {"field": "x", "type": "quantitative", "scale": {"domain": [-0.6502, 0.9606], "nice": false, "zero": false}, "axis": null},
        "y": {"field": "y", "type": "quantitative", "scale": {"domain": [0, 7.5], "nice": false, "zero": false},
          "axis": {"orient": "left", "offset": -1375, "values": [0.2, 0.4, 0.6, 0.8, 1.2, 1.4, 1.6, 1.8, 2.2, 2.4, 2.6, 2.8, 3.2, 3.4, 3.6, 3.8, 4.2, 4.4, 4.6, 4.8, 5.2, 5.4, 5.6, 5.8, 6.2, 6.4, 6.6, 6.8, 7.2, 7.4], "labels": false, "domain": false, "ticks": true, "tickSize": 7, "tickWidth": 2.5, "tickColor": "black", "grid": false, "title": null, "zindex": 1}},
        "detail": {"field": "s", "type": "nominal"},
        "order": {"field": "i", "type": "quantitative"}
      }
    },
    {
      "data": {"name": "box"},
      "mark": {"type": "rect", "fill": "white", "stroke": "black", "strokeWidth": 2.5},
      "encoding": {
        "x": {"field": "x1", "type": "quantitative", "scale": {"domain": [-0.6502, 0.9606], "nice": false, "zero": false}, "axis": null},
        "x2": {"field": "x2"},
        "y": {"field": "y1", "type": "quantitative", "scale": {"domain": [0, 7.5], "nice": false, "zero": false}, "axis": null},
        "y2": {"field": "y2"}
      }
    },
    {
      "data": {"name": "txt"},
      "transform": [{"filter": "datum.k == 'h'"}],
      "mark": {"type": "text", "font": "Liberation Serif", "fontSize": 46, "fontWeight": "bold", "align": "right", "baseline": "alphabetic", "color": "black"},
      "encoding": {
        "x": {"field": "x", "type": "quantitative", "axis": null},
        "y": {"field": "y", "type": "quantitative", "axis": null},
        "text": {"field": "t"}
      }
    },
    {
      "data": {"name": "txt"},
      "transform": [{"filter": "datum.k == 'par' || datum.k == 'eq'"}],
      "mark": {"type": "text", "font": "Liberation Serif", "fontSize": 45, "align": "left", "baseline": "alphabetic", "color": "black"},
      "encoding": {
        "x": {"field": "x", "type": "quantitative", "axis": null},
        "y": {"field": "y", "type": "quantitative", "axis": null},
        "text": {"field": "t"}
      }
    },
    {
      "data": {"name": "txt"},
      "transform": [{"filter": "datum.k == 'S'"}],
      "mark": {"type": "text", "font": "Liberation Serif", "fontSize": 46, "fontStyle": "italic", "align": "right", "baseline": "alphabetic", "color": "black"},
      "encoding": {
        "x": {"field": "x", "type": "quantitative", "axis": null},
        "y": {"field": "y", "type": "quantitative", "axis": null},
        "text": {"field": "t"}
      }
    },
    {
      "data": {"name": "txt"},
      "transform": [{"filter": "datum.k == 'b'"}],
      "mark": {"type": "text", "font": "Liberation Serif", "fontSize": 72, "align": "center", "baseline": "alphabetic", "color": "black"},
      "encoding": {
        "x": {"field": "x", "type": "quantitative", "axis": null},
        "y": {"field": "y", "type": "quantitative", "axis": null},
        "text": {"field": "t"}
      }
    }
  ]
}
